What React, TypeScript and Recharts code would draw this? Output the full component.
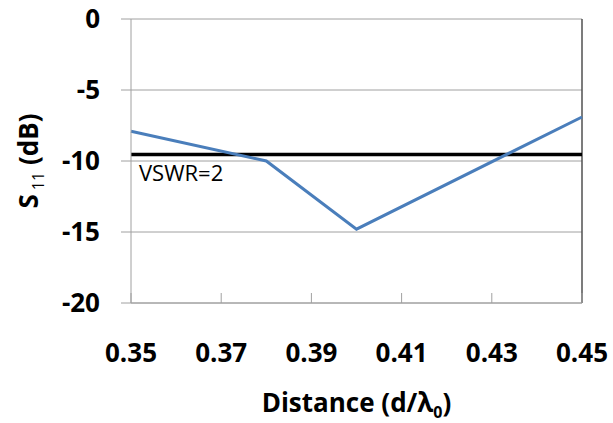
import { CartesianGrid, Line, LineChart, ReferenceLine, XAxis, YAxis } from "recharts";

const distance = [0.35, 0.38, 0.4, 0.45];
const s11 = [-7.9, -10.0, -14.8, -6.9];
const xTicks = [0.35, 0.37, 0.39, 0.41, 0.43, 0.45];
const yTicks = [0, -5, -10, -15, -20];
const vswr2 = -9.54;

const data = distance.map((d, i) => ({ d, s11: s11[i] }));

const FONT = "'Open Sans', 'Liberation Sans', sans-serif";

function XTick({ x, y, payload }: any) {
	return (
		<g>
			<line x1={x} y1={y} x2={x} y2={y - 10} stroke="#a0a0a0" strokeWidth={1} />
			<text
				x={x}
				y={y + 59}
				textAnchor="middle"
				fontFamily={FONT}
				fontWeight="bold"
				fontSize={26}
				fill="#000"
			>
				{payload.value.toFixed(2)}
			</text>
		</g>
	);
}

export default function App() {
	return (
		<div style={{ position: "absolute", left: 0, top: 0, background: "#fff" }}>
			<LineChart
				width={613}
				height={423}
				data={data}
				margin={{ top: 19, right: 31, left: 0, bottom: 0 }}
			>
				<CartesianGrid vertical={false} stroke="#a0a0a0" strokeWidth={1} />
				<XAxis
					dataKey="d"
					type="number"
					domain={[0.35, 0.45]}
					ticks={xTicks}
					height={120}
					stroke="#a0a0a0"
					tickSize={0}
					tickMargin={0}
					tick={<XTick />}
					label={{
						content: ({ viewBox }: any) => (
							<text
								x={viewBox.x + viewBox.width / 2}
								y={viewBox.y + 109}
								textAnchor="middle"
								fontFamily={FONT}
								fontWeight="bold"
								fontSize={26}
								fill="#000"
							>
								Distance (d/λ
								<tspan fontSize={16} dy={6}>
									0
								</tspan>
								<tspan dy={-6}>)</tspan>
							</text>
						),
					}}
				/>
				<YAxis
					type="number"
					domain={[-20, 0]}
					ticks={yTicks}
					width={131}
					stroke="#a0a0a0"
					tickSize={10}
					tickMargin={21}
					tick={{ fill: "#000", fontFamily: FONT, fontWeight: "bold", fontSize: 26 }}
					label={{
						content: ({ viewBox }: any) => {
							const cx = 29;
							const cy = viewBox.y + viewBox.height / 2;
							return (
								<text
									x={cx}
									y={cy + 9}
									transform={`rotate(-90, ${cx}, ${cy})`}
									textAnchor="middle"
									fontFamily={FONT}
									fontWeight="bold"
									fontSize={26}
									fill="#000"
								>
									S
									<tspan fontSize={16} fontWeight="normal" dx={4} dy={6}>
										11
									</tspan>
									<tspan dy={-6}> (dB)</tspan>
								</text>
							);
						},
					}}
				/>
				<ReferenceLine x={0.45} stroke="#505050" strokeWidth={1.5} />
				<ReferenceLine
					y={vswr2}
					stroke="#000"
					strokeWidth={3.5}
					label={{
						content: ({ viewBox }: any) => (
							<text
								x={viewBox.x + 8}
								y={viewBox.y + 27}
								fontFamily={FONT}
								fontSize={22}
								fill="#000"
							>
								VSWR=2
							</text>
						),
					}}
				/>
				<Line
					type="linear"
					dataKey="s11"
					stroke="#4A7EBB"
					strokeWidth={3}
					dot={false}
					isAnimationActive={false}
				/>
			</LineChart>
		</div>
	);
}
